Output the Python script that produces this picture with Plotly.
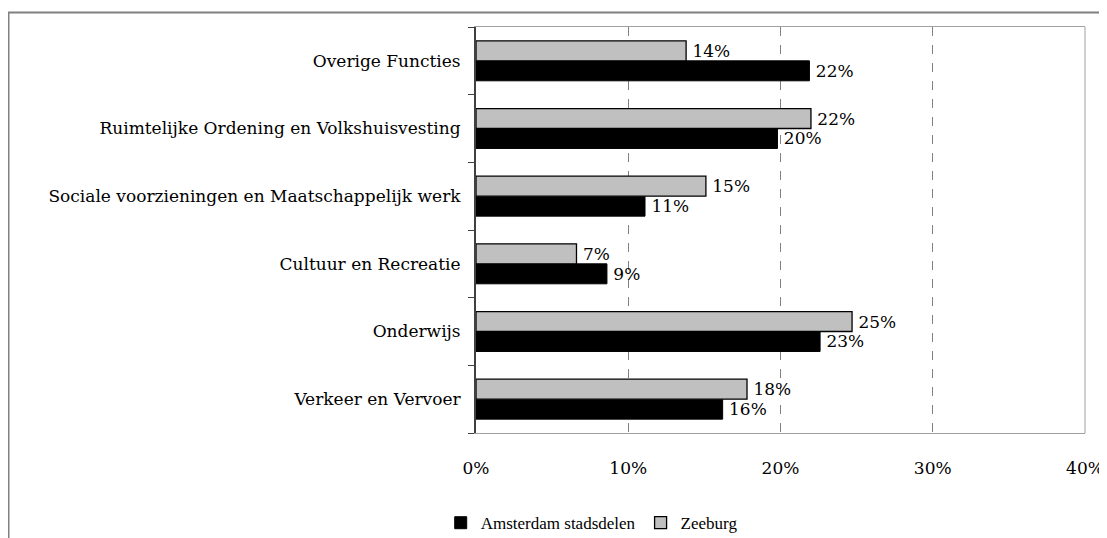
import plotly.graph_objects as go

categories = [
    "Verkeer en Vervoer",
    "Onderwijs",
    "Cultuur en Recreatie",
    "Sociale voorzieningen en Maatschappelijk werk",
    "Ruimtelijke Ordening en Volkshuisvesting",
    "Overige Functies",
]
amsterdam = [0.162, 0.226, 0.086, 0.111, 0.198, 0.219]
zeeburg = [0.178, 0.247, 0.066, 0.151, 0.220, 0.138]
x_ticks = [0, 0.1, 0.2, 0.3, 0.4]
x_labels = ["0%", "10%", "20%", "30%", "40%"]

FONT = "DejaVu Serif"
SIZE = 17

# page body has an 8px margin, so the figure is 8px smaller than the window
fig = go.Figure()
fig.add_trace(go.Bar(
    y=categories, x=amsterdam, orientation="h", name="Amsterdam stadsdelen",
    marker=dict(color="black", line=dict(color="black", width=1)),
    text=[f"\u2009{v:.0%}" for v in amsterdam], textposition="outside",
    textfont=dict(color="black", size=SIZE, family=FONT), cliponaxis=False,
))
fig.add_trace(go.Bar(
    y=categories, x=zeeburg, orientation="h", name="Zeeburg",
    marker=dict(color="#c0c0c0", line=dict(color="black", width=1.3)),
    text=[f"\u2009{v:.0%}" for v in zeeburg], textposition="outside",
    textfont=dict(color="black", size=SIZE, family=FONT), cliponaxis=False,
))

fig.update_layout(
    width=1099, height=530,
    margin=dict(l=468, r=22, t=19, b=105),
    paper_bgcolor="white", plot_bgcolor="white",
    font=dict(family=FONT, size=SIZE, color="black"),
    barmode="group", bargap=0.41, bargroupgap=0,
    showlegend=True,
    legend=dict(orientation="h", x=0.19, xanchor="center",
                yref="container", y=0.028, yanchor="middle",
                font=dict(size=17, family="Liberation Serif"), itemwidth=30,
                traceorder="normal"),
    xaxis=dict(range=[0, 0.4], tickvals=x_ticks, ticktext=x_labels, automargin=False,
               showgrid=True, gridcolor="#808080", griddash="dash", gridwidth=1,
               showline=True, linecolor="#a0a0a0", mirror=True, linewidth=1,
               ticks="", ticklabelstandoff=20, zeroline=False),
    yaxis=dict(showline=True, linecolor="#404040", linewidth=2, automargin=False,
               ticks="outside", tickson="boundaries", ticklen=6, tickcolor="#404040",
               ticklabelstandoff=10, showgrid=False),
    shapes=[
        dict(type="line", xref="paper", yref="paper", x0=1, x1=1, y0=0, y1=1,
             line=dict(color="#a0a0a0", width=1)),
        dict(type="rect", xref="paper", yref="paper", x0=-0.7677, x1=1.05, y0=-0.3, y1=1.0357,
             line=dict(color="#808080", width=2), layer="below"),
    ],
)

fig.write_html("out.html")
